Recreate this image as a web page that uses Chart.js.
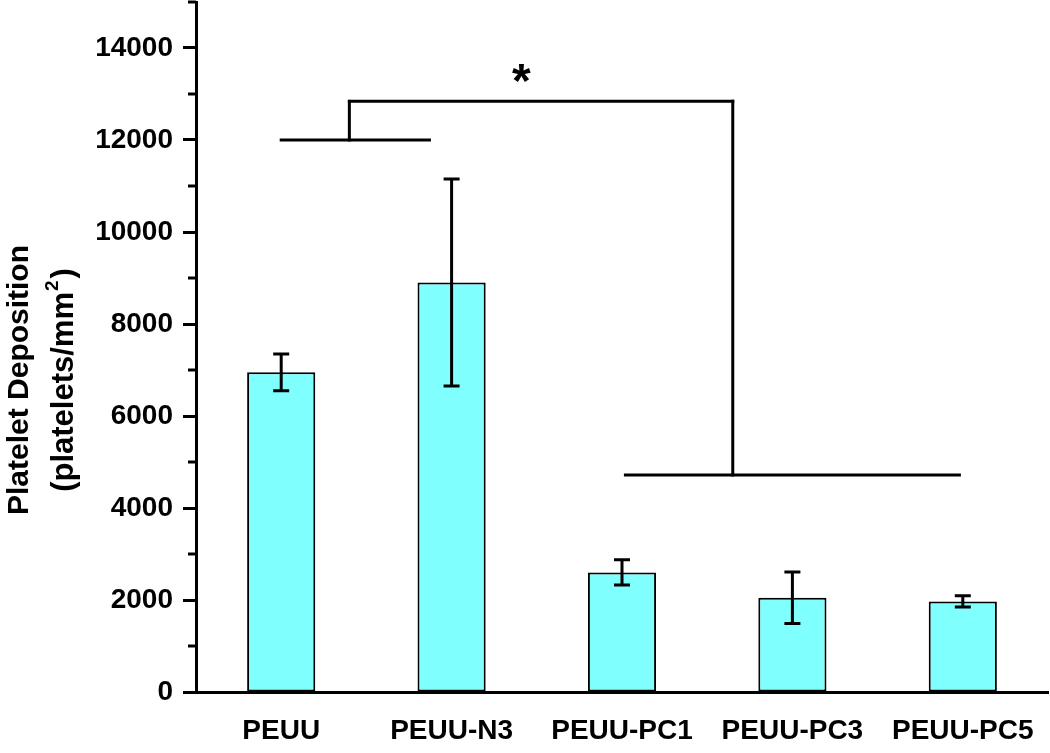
<!DOCTYPE html>
<html>
<head>
<meta charset="utf-8">
<script src="https://cdn.jsdelivr.net/npm/chart.js@4"></script>
<style>
html,body{margin:0;padding:0;background:#fff;}
#wrap{width:1050px;height:753px;}
</style>
</head>
<body>
<div id="wrap"><canvas id="c" width="1050" height="753"></canvas></div>
<script>
const categories = ['PEUU', 'PEUU-N3', 'PEUU-PC1', 'PEUU-PC3', 'PEUU-PC5'];
const meanValues = [6950, 8900, 2600, 2050, 1970];
const errorValues = [400, 2250, 275, 560, 120];
const yTicks = [0, 2000, 4000, 6000, 8000, 10000, 12000, 14000];
const yMinorTicks = [1000, 3000, 5000, 7000, 9000, 11000, 13000, 15000];
const yTitleLine1 = 'Platelet Deposition';
const yTitleLine2 = '(platelets/mm';
const yTitleSup = '2';
const yTitleLine2End = ')';
// significance bracket: [xStartIndex, xEndIndex, yValue]
const bracketHorizontal = [[0, 0.87, 12000], [0.40, 2.65, 12840], [2.02, 3.98, 4715]];
// [xIndex, yStart, yEnd]
const bracketVertical = [[0.40, 12000, 12840], [2.65, 12840, 4715]];
const starText = '*';
const starPos = [1.41, 13460];

const FONT = '"Liberation Sans", Arial, sans-serif';

const overlay = {
  id: 'overlay',
  afterDatasetsDraw(chart) {
    const ctx = chart.ctx;
    const xs = chart.scales.x, ys = chart.scales.y;
    const meta = chart.getDatasetMeta(0);
    ctx.save();
    ctx.strokeStyle = '#000';
    ctx.lineCap = 'butt';
    // error bars
    ctx.lineWidth = 3;
    meta.data.forEach((bar, i) => {
      const x = bar.x;
      const yt = ys.getPixelForValue(meanValues[i] + errorValues[i]);
      const yb = ys.getPixelForValue(meanValues[i] - errorValues[i]);
      ctx.beginPath();
      ctx.moveTo(x, yt); ctx.lineTo(x, yb);
      ctx.moveTo(x - 8, yt); ctx.lineTo(x + 8, yt);
      ctx.moveTo(x - 8, yb); ctx.lineTo(x + 8, yb);
      ctx.stroke();
    });
    // brackets
    ctx.lineWidth = 3;
    ctx.lineCap = 'square';
    bracketHorizontal.forEach(([a, b, v]) => {
      const y = ys.getPixelForValue(v);
      ctx.beginPath();
      ctx.moveTo(xs.getPixelForValue(a), y);
      ctx.lineTo(xs.getPixelForValue(b), y);
      ctx.stroke();
    });
    bracketVertical.forEach(([a, v1, v2]) => {
      const x = xs.getPixelForValue(a);
      ctx.beginPath();
      ctx.moveTo(x, ys.getPixelForValue(v1));
      ctx.lineTo(x, ys.getPixelForValue(v2));
      ctx.stroke();
    });
    // star
    ctx.fillStyle = '#000';
    ctx.font = 'bold 48px ' + FONT;
    ctx.textAlign = 'center';
    ctx.textBaseline = 'alphabetic';
    const m = ctx.measureText(starText);
    const cy = ys.getPixelForValue(starPos[1]);
    const base = cy + (m.actualBoundingBoxAscent - m.actualBoundingBoxDescent) / 2;
    ctx.fillText(starText, xs.getPixelForValue(starPos[0]), base);
    // minor ticks
    ctx.lineWidth = 3;
    ctx.lineCap = 'butt';
    const left = chart.chartArea.left;
    yMinorTicks.forEach(v => {
      const y = ys.getPixelForValue(v);
      ctx.beginPath();
      ctx.moveTo(left - 8, y); ctx.lineTo(left, y);
      ctx.stroke();
    });
    // y title
    const cyT = 380;
    ctx.translate(0, cyT);
    ctx.rotate(-Math.PI / 2);
    ctx.textAlign = 'center';
    ctx.font = 'bold 30px ' + FONT;
    ctx.fillText(yTitleLine1, 0, 28);
    const f2 = 'bold 31px ' + FONT, fs = 'bold 19px ' + FONT;
    ctx.font = f2;
    const w1 = ctx.measureText(yTitleLine2).width;
    const w3 = ctx.measureText(yTitleLine2End).width;
    ctx.font = fs;
    const w2 = ctx.measureText(yTitleSup).width + 3;
    const total = w1 + w2 + w3;
    let sx = -total / 2;
    ctx.textAlign = 'left';
    ctx.font = f2;
    ctx.fillText(yTitleLine2, sx, 73);
    ctx.font = fs;
    ctx.fillText(yTitleSup, sx + w1 + 1, 73 - 15);
    ctx.font = f2;
    ctx.fillText(yTitleLine2End, sx + w1 + w2, 73);
    ctx.restore();
  }
};

new Chart(document.getElementById('c'), {
  type: 'bar',
  data: {
    labels: categories,
    datasets: [{
      data: meanValues,
      backgroundColor: '#80ffff',
      borderColor: '#000',
      borderWidth: 2,
      borderSkipped: false,
      barPercentage: 0.4,
      categoryPercentage: 1.0
    }]
  },
  options: {
    responsive: false,
    animation: false,
    devicePixelRatio: 1,
    layout: { padding: { top: 2, right: 2, left: 0, bottom: 0 } },
    plugins: { legend: { display: false }, tooltip: { enabled: false }, title: { display: false } },
    scales: {
      x: {
        offset: true,
        grid: { display: true, drawOnChartArea: false, drawTicks: false },
        border: { display: true, color: '#000', width: 3 },
        ticks: { color: '#000', font: { family: FONT, size: 28, weight: 'bold' }, padding: 22, maxRotation: 0, autoSkip: false },
        afterFit(s) { s.height = 61; s.paddingLeft = 0; s.paddingRight = 0; }
      },
      y: {
        min: 0,
        max: 15000,
        afterBuildTicks(s) { s.ticks = yTicks.map(v => ({ value: v })); },
        grid: { display: true, drawOnChartArea: false, drawTicks: true, tickLength: 13, tickWidth: 3, tickColor: '#000' },
        border: { display: true, color: '#000', width: 3 },
        ticks: { color: '#000', font: { family: FONT, size: 28, weight: 'bold' }, padding: 10, callback: v => String(v) },
        afterFit(s) { s.width = 196; s.paddingTop = 0; s.paddingBottom = 0; }
      }
    }
  },
  plugins: [overlay]
});
</script>
</body>
</html>
